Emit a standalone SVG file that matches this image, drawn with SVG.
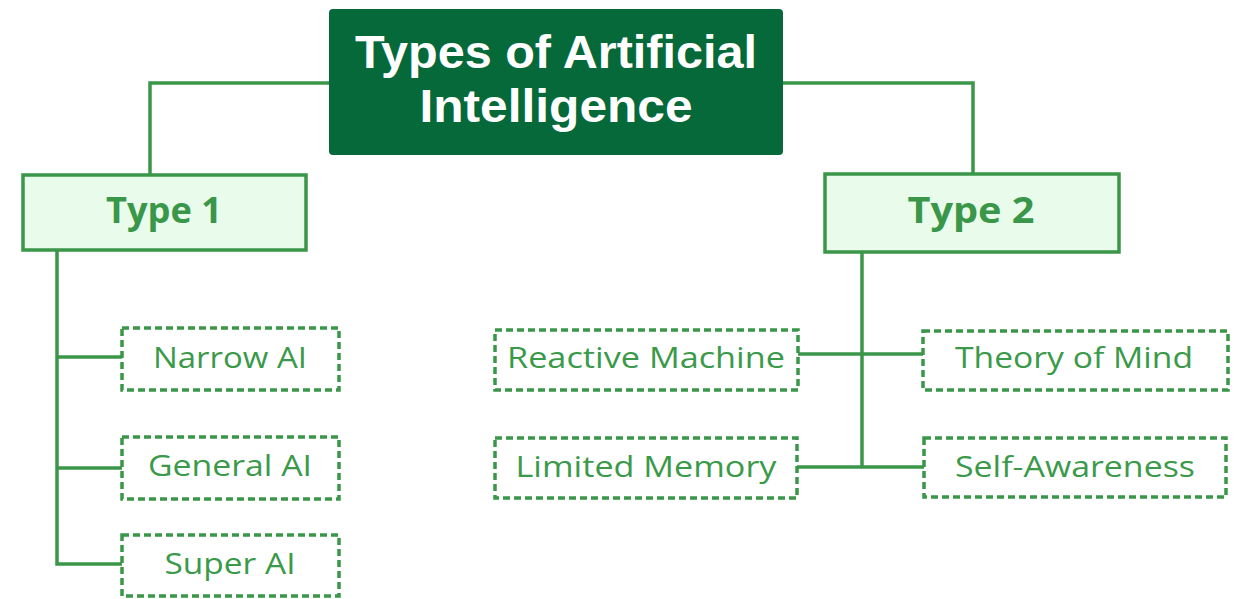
<svg xmlns="http://www.w3.org/2000/svg" width="1243" height="599" viewBox="0 0 1243 599">
<style>
.conn{fill:none;stroke:#3a9648;stroke-width:3.5}
.type{fill:#e9fbea;stroke:#3a9648;stroke-width:3.5}
.leaf{fill:#fff;stroke:#3a9648;stroke-width:3.5;stroke-dasharray:7 4}
.lt{font-family:"Open Sans","Liberation Sans",sans-serif;font-size:29px;fill:#3a9a4a;text-anchor:middle}
.tt{font-family:"Open Sans","Liberation Sans",sans-serif;font-size:36px;font-weight:bold;fill:#3a9648;text-anchor:middle}
.ht{font-family:"Liberation Sans","Open Sans",sans-serif;font-size:46px;font-weight:bold;fill:#fff;text-anchor:middle}
</style>
<rect width="1243" height="599" fill="#fff"/>
<g id="connectors">
<polyline class="conn" points="330,83 150,83 150,175"/>
<polyline class="conn" points="782,83 973,83 973,174"/>
<polyline class="conn" points="57,250 57,564 122,564"/>
<line class="conn" x1="57" y1="357" x2="122" y2="357"/>
<line class="conn" x1="57" y1="468" x2="122" y2="468"/>
<line class="conn" x1="862" y1="252" x2="862" y2="468"/>
<line class="conn" x1="798" y1="354" x2="923" y2="354"/>
<line class="conn" x1="797" y1="467" x2="924" y2="467"/>
</g>
<g id="title">
<rect x="329" y="9" width="454" height="146" rx="4" fill="#05693a"/>
<text class="ht" x="556" y="68" textLength="402" lengthAdjust="spacingAndGlyphs">Types of Artificial</text>
<text class="ht" x="556" y="122" textLength="273" lengthAdjust="spacingAndGlyphs">Intelligence</text>
</g>
<g id="type1">
<rect class="type" x="23" y="175" width="283" height="75"/>
<text class="tt" x="164" y="223" textLength="116" lengthAdjust="spacingAndGlyphs">Type 1</text>
</g>
<g id="type2">
<rect class="type" x="825" y="174" width="294" height="78"/>
<text class="tt" x="971" y="223" textLength="127" lengthAdjust="spacingAndGlyphs">Type 2</text>
</g>
<g id="narrow">
<rect class="leaf" x="122" y="328" width="217" height="62"/>
<text class="lt" x="230" y="368" textLength="154" lengthAdjust="spacingAndGlyphs">Narrow AI</text>
</g>
<g id="general">
<rect class="leaf" x="122" y="437" width="217" height="62"/>
<text class="lt" x="230" y="476" textLength="164" lengthAdjust="spacingAndGlyphs">General AI</text>
</g>
<g id="super">
<rect class="leaf" x="122" y="535" width="217" height="61"/>
<text class="lt" x="230" y="574" textLength="131" lengthAdjust="spacingAndGlyphs">Super AI</text>
</g>
<g id="reactive">
<rect class="leaf" x="495" y="330" width="303" height="60"/>
<text class="lt" x="646" y="368" textLength="278" lengthAdjust="spacingAndGlyphs">Reactive Machine</text>
</g>
<g id="limited">
<rect class="leaf" x="495" y="438" width="302" height="60"/>
<text class="lt" x="646" y="477" textLength="261" lengthAdjust="spacingAndGlyphs">Limited Memory</text>
</g>
<g id="theory">
<rect class="leaf" x="923" y="331" width="305" height="59"/>
<text class="lt" x="1074" y="368" textLength="238" lengthAdjust="spacingAndGlyphs">Theory of Mind</text>
</g>
<g id="self">
<rect class="leaf" x="924" y="438" width="302" height="59"/>
<text class="lt" x="1075" y="477" textLength="240" lengthAdjust="spacingAndGlyphs">Self-Awareness</text>
</g>
</svg>
